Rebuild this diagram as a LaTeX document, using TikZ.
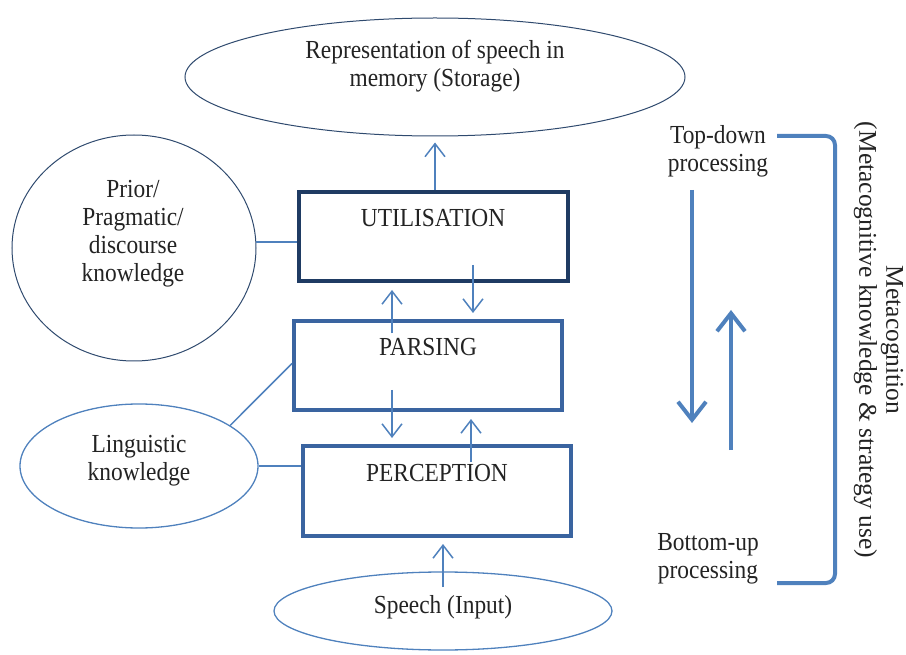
\documentclass[tikz,border=0pt]{standalone}
\usepackage{fontspec}
\setmainfont{Liberation Serif}[FakeStretch=0.9]
\newfontfamily\uprightfont{Liberation Serif}
\usetikzlibrary{shapes.geometric,arrows.meta,calc}

\definecolor{navy}{RGB}{31,59,99}
\definecolor{boxblue}{RGB}{58,100,160}
\definecolor{lineblue}{RGB}{79,129,189}
\definecolor{slate}{RGB}{47,74,110}
\definecolor{txt}{RGB}{35,35,35}

\tikzset{
  lbl/.style={font=\fontsize{26}{28}\selectfont, text=txt, align=center, inner sep=0pt},
  oval/.style={ellipse, draw=lineblue, line width=1.3pt, inner sep=0pt},
  darkoval/.style={ellipse, draw=slate, line width=1pt, inner sep=0pt},
  stage/.style={rectangle, draw=boxblue, line width=4pt, inner sep=0pt},
  link/.style={draw=lineblue, line width=1.5pt},
  flow/.style={link, -{Straight Barb[length=13pt,width=20pt,line width=1.5pt]}},
  bigflow/.style={draw=lineblue, line width=4pt, -{Straight Barb[length=18pt,width=28pt,line width=4pt]}},
}

\begin{document}
\begin{tikzpicture}[x=1pt,y=-1pt]
\useasboundingbox (0,0) rectangle (906,655);

% ellipses
\node[darkoval, minimum width=500, minimum height=118] (store) at (435,77) {};
\node[lbl] (storetxt) at (435,66) {Representation of speech in\\memory (Storage)};

\node[darkoval, minimum width=244, minimum height=226] (prior) at (134,248) {};
\node[lbl] (priortxt) at (133,234) {Prior/\\Pragmatic/\\discourse\\knowledge};

\node[oval, minimum width=238, minimum height=124] (ling) at (139,466) {};
\node[lbl] (lingtxt) at (139,461) {Linguistic\\knowledge};

\node[oval, minimum width=338, minimum height=78] (speech) at (443,611) {};
\node[lbl] (speechtxt) at (443,607) {Speech (Input)};

% processing stages
\node[stage, draw=navy, minimum width=269, minimum height=89] (util) at (433.5,236.5) {};
\node[lbl] (utiltxt) at (433,218) {UTILISATION};

\node[stage, minimum width=268, minimum height=89] (parse) at (428,365.5) {};
\node[lbl] (parsetxt) at (428,347) {PARSING};

\node[stage, minimum width=268, minimum height=90] (perc) at (437,491) {};
\node[lbl] (perctxt) at (437,473) {PERCEPTION};

% flows between stages
\draw[flow] (util.north -| store.south) -- ($(store.south)+(0,6)$);
\draw[flow] ($(parse.center)+(-36,-32)$) -- ($(util.south)+(-41.5,7)$);
\draw[flow] ($(util.center)+(39.5,28.5)$) -- ($(parse.north)+(45,-6)$);
\draw[flow] ($(parse.center)+(-36,24.5)$) -- ($(perc.north)+(-45,-6)$);
\draw[flow] ($(perc.center)+(34,-29)$) -- ($(parse.south)+(43,7)$);
\draw[flow] ($(speech.center)+(0,-24)$) -- ($(perc.south)+(6,6)$);

% knowledge links
\draw[link] ($(prior.east)+(-1,-6)$) -- ($(util.west)+(0,5.5)$);
\draw[link] (ling.24) -- ($(parse.west)+(0,-2)$);
\draw[link] (ling.east) -- (ling.east -| perc.west);

% metacognition side
\node[lbl] (td) at (718,151) {Top-down\\processing};
\node[lbl] (bu) at (708,559) {Bottom-up\\processing};
\coordinate (tdend) at ($(td.center)+(59,-15)$);
\coordinate (buend) at ($(bu.center)+(69,24)$);
\coordinate (bracketx) at (835,0);
\draw[draw=lineblue, line width=4pt, rounded corners=9pt]
  (tdend) -- (tdend -| bracketx) -- (buend -| bracketx) -- (buend);
\draw[bigflow] ($(td.center)+(-26,39)$) -- ($(td.center)+(-26,272)$);
\draw[bigflow] ($(bu.center)+(23,-109)$) -- ($(bu.center)+(23,-249)$);

\node[lbl, font=\uprightfont\fontsize{25.5}{27}\selectfont, rotate=-90] (meta) at (878.5,340)
  {Metacognition\\(Metacognitive knowledge \& strategy use)};
\end{tikzpicture}
\end{document}
